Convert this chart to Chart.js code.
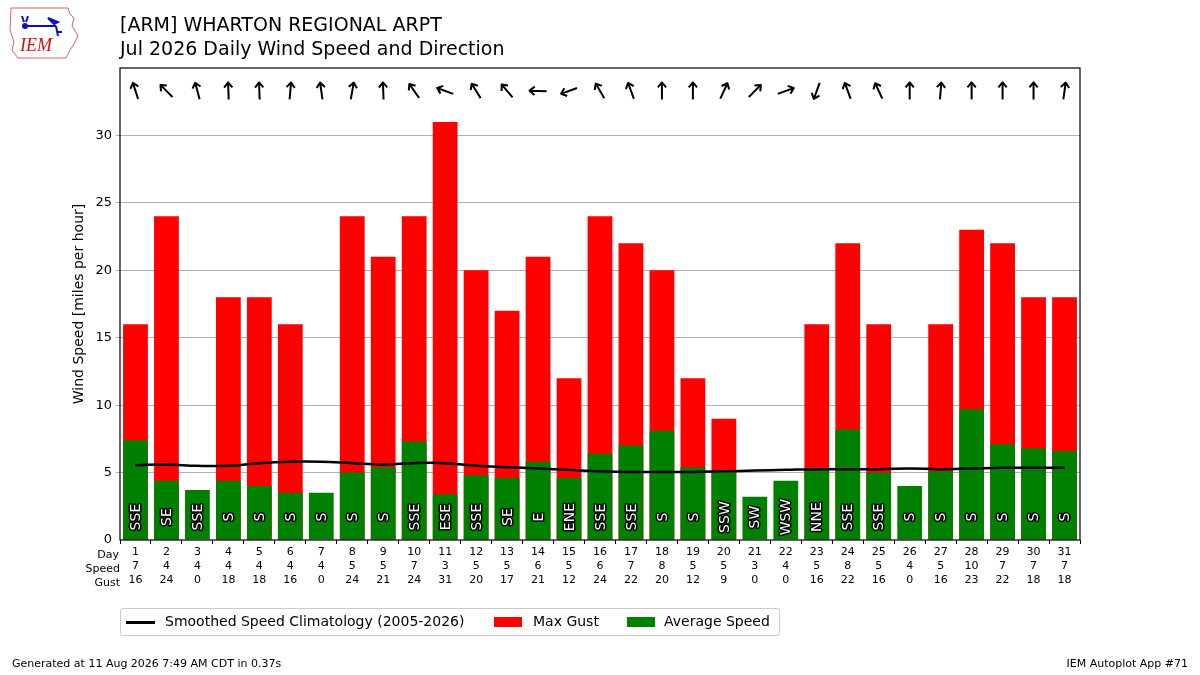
<!DOCTYPE html>
<html>
<head>
<meta charset="utf-8">
<script src="https://cdn.jsdelivr.net/npm/chart.js@4"></script>
<style>
  body { margin: 0; background: #fff; font-family: "DejaVu Sans", sans-serif; }
  #wrap { position: relative; width: 1200px; height: 675px; }
  #tasteChart { position: absolute; left: 0; top: 0; }
  .title { position: absolute; left: 120px; font-size: 19px; color: #000; white-space: nowrap; }
  .foot { position: absolute; top: 657px; font-size: 11px; color: #000; }
  #legend { position: absolute; left: 120px; top: 608px; height: 26px; width: 658px; border: 1px solid #ccc; border-radius: 3px; font-size: 14px; }
  #legend span { position: absolute; top: 4px; white-space: nowrap; }
  .sw { position: absolute; }
</style>
</head>
<body>
<div id="wrap">
  <canvas id="tasteChart" width="1200" height="675"></canvas>
  <svg style="position:absolute;left:8px;top:6px" width="72" height="54" viewBox="0 0 72 54">
    <path d="M3 2 L60 2 L62 8 L66 12 L64 20 L70 30 L66 38 L62 44 L58 52 L10 52 L4 44 L6 36 L2 24 Z" fill="none" stroke="#e06060" stroke-width="1"/>
    <path d="M14 10 L16 16 M20 10 L18 16 M16 20 L30 20 L48 20" stroke="#1010c0" stroke-width="2" fill="none"/>
    <circle cx="17" cy="20" r="3" fill="#1010c0"/>
    <path d="M40 12 L50 16 L46 18 Z M48 20 L50 30 M50 26 L54 26" stroke="#1010c0" stroke-width="2" fill="#1010c0"/>
    <text x="12" y="45" font-family="Liberation Serif" font-style="italic" font-size="18" fill="#d01010">IEM</text>
  </svg>
  <div class="title" style="top:13px">[ARM] WHARTON REGIONAL ARPT</div>
  <div class="title" style="top:37px">Jul 2026 Daily Wind Speed and Direction</div>
  <div id="legend">
    <div class="sw" style="left:5px;top:12px;width:29px;height:2.5px;background:#000"></div>
    <span style="left:44px">Smoothed Speed Climatology (2005-2026)</span>
    <div class="sw" style="left:373px;top:8px;width:28px;height:10px;background:#ff0000"></div>
    <span style="left:412px">Max Gust</span>
    <div class="sw" style="left:506px;top:8px;width:28px;height:10px;background:#008000"></div>
    <span style="left:543px">Average Speed</span>
  </div>
  <div class="foot" style="left:12px">Generated at 11 Aug 2026 7:49 AM CDT in 0.37s</div>
  <div class="foot" style="right:12px">IEM Autoplot App #71</div>
</div>
<script>
const days = [1, 2, 3, 4, 5, 6, 7, 8, 9, 10, 11, 12, 13, 14, 15, 16, 17, 18, 19, 20, 21, 22, 23, 24, 25, 26, 27, 28, 29, 30, 31];
const avgSpeed = [7.4, 4.4, 3.7, 4.4, 4.0, 3.5, 3.5, 5.0, 5.4, 7.3, 3.4, 4.8, 4.6, 5.8, 4.6, 6.4, 7.0, 8.1, 5.4, 5.1, 3.2, 4.4, 5.2, 8.2, 5.0, 4.0, 5.1, 9.7, 7.1, 6.8, 6.6];
const maxGust = [16, 24, 0, 18, 18, 16, 0, 24, 21, 24, 31, 20, 17, 21, 12, 24, 22, 20, 12, 9, 0, 0, 16, 22, 16, 0, 16, 23, 22, 18, 18];
const climo = [5.55, 5.6, 5.5, 5.5, 5.7, 5.8, 5.8, 5.7, 5.6, 5.7, 5.7, 5.5, 5.4, 5.3, 5.2, 5.1, 5.05, 5.05, 5.05, 5.1, 5.15, 5.2, 5.25, 5.25, 5.25, 5.3, 5.25, 5.3, 5.35, 5.35, 5.35];
const dirText = ["SSE", "SE", "SSE", "S", "S", "S", "S", "S", "S", "SSE", "ESE", "SSE", "SE", "E", "ENE", "SSE", "SSE", "S", "S", "SSW", "SW", "WSW", "NNE", "SSE", "SSE", "S", "S", "S", "S", "S", "S"];
const dirDeg = [162, 135, 165, 178, 178, 185, 172, 190, 178, 145, 110, 148, 140, 92, 70, 150, 160, 180, 180, 205, 225, 250, 20, 160, 155, 180, 185, 180, 180, 180, 188];
const yTicks = [0, 5, 10, 15, 20, 25, 30];

const ctx = document.getElementById("tasteChart");

const xLabels = days.map((d, i) => [String(d), String(Math.round(avgSpeed[i])), String(maxGust[i])]);

const windPlugin = {
    id: "windPlugin",
    afterDatasetsDraw(chart) {
        const c = chart.ctx;
        const x = chart.scales.x;
        const y = chart.scales.y;
        // direction text inside bars
        c.save();
        c.font = "14px 'DejaVu Sans'";
        c.textAlign = "center";
        c.textBaseline = "middle";
        c.lineJoin = "round";
        for (let i = 0; i < days.length; i++) {
            c.save();
            c.translate(x.getPixelForValue(i), y.getPixelForValue(1.7));
            c.rotate(-Math.PI / 2);
            c.strokeStyle = "#000";
            c.lineWidth = 3;
            c.strokeText(dirText[i], 0, 1);
            c.fillStyle = "#fff";
            c.fillText(dirText[i], 0, 1);
            c.restore();
        }
        // arrows
        c.strokeStyle = "#000";
        c.lineWidth = 2;
        c.lineCap = "butt";
        for (let i = 0; i < days.length; i++) {
            const cx = x.getPixelForValue(i);
            const cy = y.getPixelForValue(33.3);
            const r = dirDeg[i] * Math.PI / 180;
            const dx = -Math.sin(r);
            const dy = Math.cos(r);
            const L = 8.5;
            const tx = cx + dx * L, ty = cy + dy * L;
            c.beginPath();
            c.moveTo(cx - dx * L, cy - dy * L);
            c.lineTo(tx, ty);
            const a = Math.atan2(dy, dx);
            const h = 6.5;
            c.moveTo(tx + Math.cos(a + 2.45) * h, ty + Math.sin(a + 2.45) * h);
            c.lineTo(tx, ty);
            c.lineTo(tx + Math.cos(a - 2.45) * h, ty + Math.sin(a - 2.45) * h);
            c.stroke();
        }
        c.restore();
    },
    afterDraw(chart) {
        const c = chart.ctx;
        const a = chart.chartArea;
        c.save();
        c.strokeStyle = "#000";
        c.lineWidth = 1.2;
        c.strokeRect(a.left, a.top, a.right - a.left, a.bottom - a.top);
        c.fillStyle = "#000";
        c.font = "11px 'DejaVu Sans'";
        c.textAlign = "right";
        c.textBaseline = "middle";
        c.fillText("Day", a.left - 1, 555);
        c.fillText("Speed", a.left, 569);
        c.fillText("Gust", a.left, 583);
        c.font = "14px 'DejaVu Sans'";
        c.textAlign = "center";
        c.translate(79, (a.top + a.bottom) / 2);
        c.rotate(-Math.PI / 2);
        c.fillText("Wind Speed [miles per hour]", 0, 0);
        c.restore();
    },
};

new Chart(ctx, {
    data: {
        labels: xLabels,
        datasets: [
            {
                type: "line",
                label: "Smoothed Speed Climatology (2005-2026)",
                data: climo,
                borderColor: "#000",
                borderWidth: 2.5,
                pointRadius: 0,
                tension: 0.4,
                order: 0,
            },
            {
                type: "bar",
                label: "Max Gust",
                data: maxGust,
                backgroundColor: "#ff0000",
                grouped: false,
                barPercentage: 0.8,
                categoryPercentage: 1,
                order: 2,
            },
            {
                type: "bar",
                label: "Average Speed",
                data: avgSpeed,
                backgroundColor: "#008000",
                grouped: false,
                barPercentage: 0.8,
                categoryPercentage: 1,
                order: 1,
            },
        ],
    },
    options: {
        responsive: false,
        animation: false,
        layout: { padding: { top: 68, right: 120, left: 0, bottom: 0 } },
        plugins: { legend: { display: false }, tooltip: { enabled: false } },
        scales: {
            x: {
                offset: true,
                grid: { display: true, drawOnChartArea: false, color: "#000", tickLength: 4 },
                border: { display: false },
                ticks: {
                    color: "#000",
                    font: { family: "DejaVu Sans", size: 11, lineHeight: "14px" },
                    padding: 1,
                    maxRotation: 0,
                    autoSkip: false,
                },
                afterFit(scale) { scale.height = 135; },
            },
            y: {
                min: 0,
                max: 35,
                afterBuildTicks(scale) { scale.ticks = yTicks.map((v) => ({ value: v })); },
                grid: { color: (c) => (c.tick && c.tick.value === 0 ? "rgba(0,0,0,0)" : "#b0b0b0"), tickLength: 4 },
                border: { display: false },
                ticks: { color: "#000", font: { family: "DejaVu Sans", size: 13 }, padding: 4 },
                afterFit(scale) { scale.width = 120; },
            },
        },
    },
    plugins: [windPlugin],
});
</script>
</body>
</html>
